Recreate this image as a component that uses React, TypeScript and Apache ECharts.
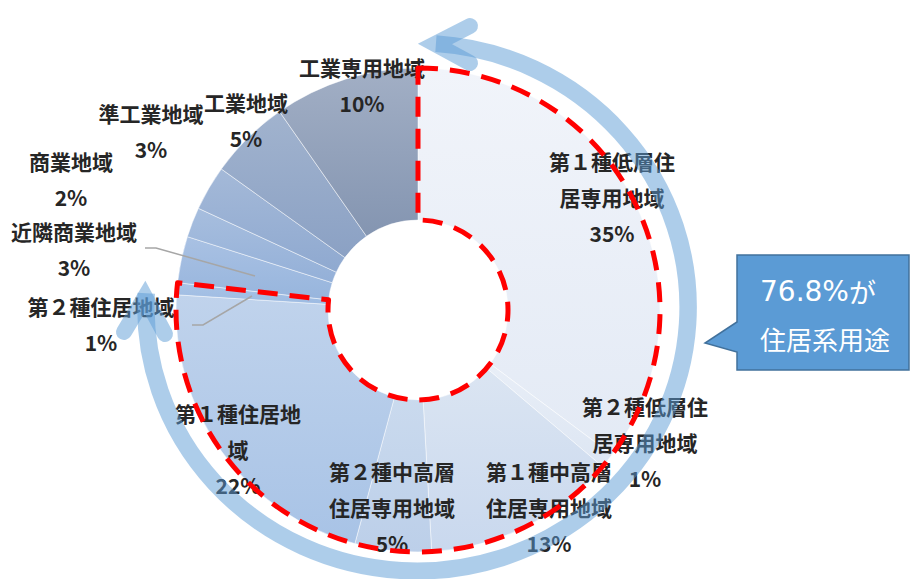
import React, { useEffect, useRef } from 'react';
import * as echarts from 'echarts';

// ---- data ----
const categories = [
  '第１種低層住居専用地域',
  '第２種低層住居専用地域',
  '第１種中高層住居専用地域',
  '第２種中高層住居専用地域',
  '第１種住居地域',
  '第２種住居地域',
  '近隣商業地域',
  '商業地域',
  '準工業地域',
  '工業地域',
  '工業専用地域',
];
const shares = [35.2, 1.0, 12.9, 5.1, 21.8, 0.8, 3.1, 2.0, 3.0, 5.4, 9.7];
const residentialCount = 6; // first six categories are residential zones
const calloutTail = 'が';
const calloutLine2 = '住居系用途';

// ---- styles / layout ----
const sliceColors = [
  ['#f1f4fa', '#e3eaf5'],
  ['#e8eef7', '#dde6f3'],
  ['#dbe5f2', '#c9d8ee'],
  ['#cadaee', '#bccfe9'],
  ['#c0d3ec', '#a8c3e6'],
  ['#a9c3e6', '#9dbbe2'],
  ['#a9c1e3', '#97b5dd'],
  ['#a7bede', '#94b0d8'],
  ['#a4b9d8', '#8fa9d0'],
  ['#a1b3ce', '#8ba1c4'],
  ['#a2afc5', '#8495b1'],
];
const labelCenters = [
  [612, 197], [645, 442], [549, 507], [392, 507], [238, 449], [101, 324],
  [74, 249], [71, 179], [151, 131], [246, 120], [362, 85],
];
const labelWidths = [128, 128, 128, 128, 128, 170, 136, 128, 128, 128, 136];
const CX = 418;
const CY = 310;
const R_IN = 90;
const R_OUT = 242;
const FONT = '"Noto Sans CJK JP", "Noto Sans", sans-serif';
const deg = (d: number) => (d * Math.PI) / 180;

export default function App() {
  const ref = useRef<HTMLDivElement>(null);
  useEffect(() => {
    if (!ref.current) return;
    const chart = echarts.init(ref.current, undefined, { renderer: 'svg' });
    const residential = Math.round(shares.slice(0, residentialCount).reduce((a, b) => a + b, 0) * 10) / 10;
    const others = Math.round(shares.slice(residentialCount).reduce((a, b) => a + b, 0) * 10) / 10;
    const arrowColor = 'rgba(91,155,213,0.5)';

    chart.setOption({
      animation: false,
      series: [
        {
          type: 'pie',
          z: 2,
          center: [CX, CY],
          radius: [R_IN, R_OUT],
          startAngle: 90,
          clockwise: true,
          avoidLabelOverlap: false,
          percentPrecision: 0,
          silent: true,
          emphasis: { disabled: true },
          itemStyle: { borderColor: 'rgba(255,255,255,0.6)', borderWidth: 0.8 },
          label: {
            show: true,
            position: 'inside',
            formatter: '{b}\n{d}%',
            fontFamily: FONT,
            fontSize: 21,
            fontWeight: 'bold',
            color: '#262626',
            lineHeight: 36,
            overflow: 'break',
            textBorderWidth: 0,
          },
          labelLine: { show: false },
          labelLayout: (params: any) => {
            const p = labelCenters[params.dataIndex];
            return { x: p[0], y: p[1], align: 'center', verticalAlign: 'middle' };
          },
          data: categories.map((name, i) => ({
            name,
            value: shares[i],
            label: { width: labelWidths[i] },
            itemStyle: {
              color: new echarts.graphic.LinearGradient(0, 0, 0, 1, [
                { offset: 0, color: sliceColors[i][0] },
                { offset: 1, color: sliceColors[i][1] },
              ]),
            },
          })),
        },
        {
          type: 'pie',
          z: 5,
          center: [CX, CY],
          radius: [R_IN, R_OUT],
          startAngle: 90,
          clockwise: true,
          silent: true,
          emphasis: { disabled: true },
          label: { show: false },
          labelLine: { show: false },
          data: [
            {
              name: 'residential',
              value: residential,
              itemStyle: { color: 'rgba(0,0,0,0)', borderColor: '#ff0000', borderWidth: 5, borderType: [20, 12] },
            },
            {
              name: 'other',
              value: others,
              itemStyle: { color: 'rgba(0,0,0,0)', borderWidth: 0 },
            },
          ],
        },
      ],
      graphic: {
        elements: [
          {
            type: 'polyline', z: 4, silent: true,
            shape: { points: [[145, 248], [156, 248], [255, 276]] },
            style: { stroke: '#a6a6a6', lineWidth: 1.5, fill: null },
          },
          {
            type: 'polyline', z: 4, silent: true,
            shape: { points: [[192, 325], [203, 325], [252, 296]] },
            style: { stroke: '#a6a6a6', lineWidth: 1.5, fill: null },
          },
          {
            type: 'arc', z: 10, silent: true,
            x: 417, y: 307, scaleX: 271 / 264, scaleY: 1,
            shape: { cx: 0, cy: 0, r: 264, startAngle: deg(-86), endAngle: deg(183), clockwise: true },
            style: { stroke: arrowColor, lineWidth: 17, fill: null, strokeNoScale: true },
          },
          {
            type: 'polyline', z: 10, silent: true,
            shape: { points: [[470, 26], [435, 44], [470, 63]] },
            style: { stroke: arrowColor, lineWidth: 16, lineCap: 'round', lineJoin: 'miter', miterLimit: 10, fill: null },
          },
          {
            type: 'polyline', z: 10, silent: true,
            shape: { points: [[124, 332], [145, 297], [165, 334]] },
            style: { stroke: arrowColor, lineWidth: 16, lineCap: 'round', lineJoin: 'miter', miterLimit: 10, fill: null },
          },
          {
            type: 'polygon', z: 12, silent: true,
            shape: { points: [[737, 255], [909, 255], [909, 370], [737, 370], [737, 352], [705, 343], [737, 322]] },
            style: { fill: '#5b9bd5', stroke: '#41719c', lineWidth: 1.5 },
          },
          {
            type: 'text', z: 13, silent: true,
            x: 760, y: 291,
            style: {
              text: `{n|${residential.toFixed(1)}%}{t|${calloutTail}}`,
              rich: {
                n: { fill: '#ffffff', fontSize: 28, fontFamily: '"DejaVu Sans", sans-serif' },
                t: { fill: '#ffffff', fontSize: 27, fontFamily: FONT },
              },
              fill: '#ffffff', fontSize: 27, fontFamily: FONT, align: 'left', verticalAlign: 'middle',
            },
          },
          {
            type: 'text', z: 13, silent: true,
            x: 760, y: 338,
            style: {
              text: calloutLine2,
              fill: '#ffffff', fontSize: 26, fontFamily: FONT, align: 'left', verticalAlign: 'middle',
            },
          },
        ],
      },
    });
    return () => chart.dispose();
  }, []);
  return <div ref={ref} style={{ position: 'absolute', left: 0, top: 0, width: 911, height: 579, background: '#fff' }} />;
}
